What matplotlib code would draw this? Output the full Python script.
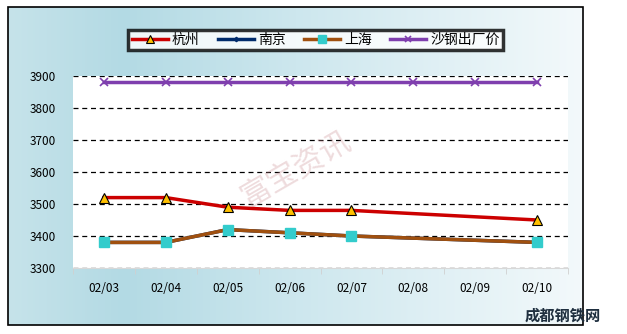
import numpy as np
import matplotlib.pyplot as plt
from matplotlib.colors import LinearSegmentedColormap
from matplotlib.patches import Rectangle

plt.rcParams['font.family'] = ['Noto Sans CJK SC', 'DejaVu Sans']

# data
dates = ['02/03', '02/04', '02/05', '02/06', '02/07', '02/08', '02/09', '02/10']
hangzhou = [3520, 3520, 3490, 3480, 3480, np.nan, np.nan, 3450]
nanjing = [3380, 3380, 3420, 3410, 3400, np.nan, np.nan, 3380]
shanghai = [3380, 3380, 3420, 3410, 3400, np.nan, np.nan, 3380]
shagang = [3880, 3880, 3880, 3880, 3880, 3880, 3880, 3880]
yticks = [3300, 3400, 3500, 3600, 3700, 3800, 3900]

fig = plt.figure(figsize=(6.27, 3.34), dpi=100)
W, H = 627, 334

# gradient background inside the outer frame
bg = fig.add_axes([0, 0, 1, 1], zorder=0)
bg.set_xlim(0, W)
bg.set_ylim(H, 0)
bg.axis('off')
cmap = LinearSegmentedColormap.from_list(
    'bg', [(0, '#c6e3ea'), (0.2, '#b3dae4'), (0.5, '#cde7ee'), (1, '#f3f9fb')])
grad = np.linspace(0, 1, 256).reshape(1, -1)
bg.imshow(grad, cmap=cmap, extent=[8, 583, 325, 7], aspect='auto')
bg.add_patch(Rectangle((8, 7), 575, 318, fill=False, ec='black', lw=1.2))

# logo bottom right
bg.text(563, 316, '成都钢铁网', fontsize=11, color='#1f2f3f', fontweight='bold',
        ha='center', va='center')

# plot area
x0, x1, ytop, ybot = 73, 568, 76, 268
ax = fig.add_axes([x0 / W, 1 - ybot / H, (x1 - x0) / W, (ybot - ytop) / H], zorder=1)
ax.set_facecolor('white')
x = np.arange(len(dates))

# watermark in the plot area
ax.text(0.45, 0.52, '富宝资讯', transform=ax.transAxes, fontsize=22,
        color='#c98a90', alpha=0.3, rotation=30, ha='center', va='center',
        zorder=1)


def line(vals, **kw):
    v = np.array(vals, dtype=float)
    m = ~np.isnan(v)
    return ax.plot(x[m], v[m], **kw)[0]


h1 = line(hangzhou, color='#cc0000', lw=2.5, marker='^', ms=7,
          mfc='#ffc000', mec='black', mew=0.8, label='杭州', zorder=4)
h2 = line(nanjing, color='#002b6b', lw=2.5, marker='D', ms=3,
          label='南京', zorder=2)
h3 = line(shanghai, color='#a0500f', lw=2.5, marker='s', ms=7,
          mfc='#33cccc', mec='#33cccc', label='上海', zorder=3)
h4 = line(shagang, color='#7f3fae', lw=2.5, marker='x', ms=6,
          mec='#7f3fae', mew=1.2, label='沙钢出厂价', zorder=3)

ax.set_xlim(-0.5, len(dates) - 0.5)
ax.set_ylim(3300, 3900)
ax.set_yticks(yticks)
ax.set_xticks(x)
ax.set_xticklabels(dates)
ax.yaxis.grid(True, linestyle=(0, (4, 3)), color='black', lw=0.9)
ax.set_axisbelow(True)
ax.tick_params(axis='y', length=0, labelsize=8.5, pad=12)
ax.tick_params(axis='x', length=0, labelsize=8.5, pad=10)
ax.set_xticks(np.arange(len(dates) + 1) - 0.5, minor=True)
ax.tick_params(axis='x', which='minor', length=4, color='#d0d0d0', direction='out')
for s in ['top', 'right', 'left']:
    ax.spines[s].set_visible(False)
ax.spines['bottom'].set_color('#d8d8d8')

leg = fig.legend(handles=[h1, h2, h3, h4], loc='center',
                 bbox_to_anchor=((128 + 503) / 2 / W, 1 - 40 / H),
                 ncol=4, fontsize=10, frameon=True, fancybox=False,
                 handlelength=2.6, handletextpad=0.3, columnspacing=1.3,
                 borderpad=0.25, markerscale=0.75, edgecolor='black')
leg.get_frame().set_linewidth(2.5)

fig.savefig('out.png', dpi=100)
